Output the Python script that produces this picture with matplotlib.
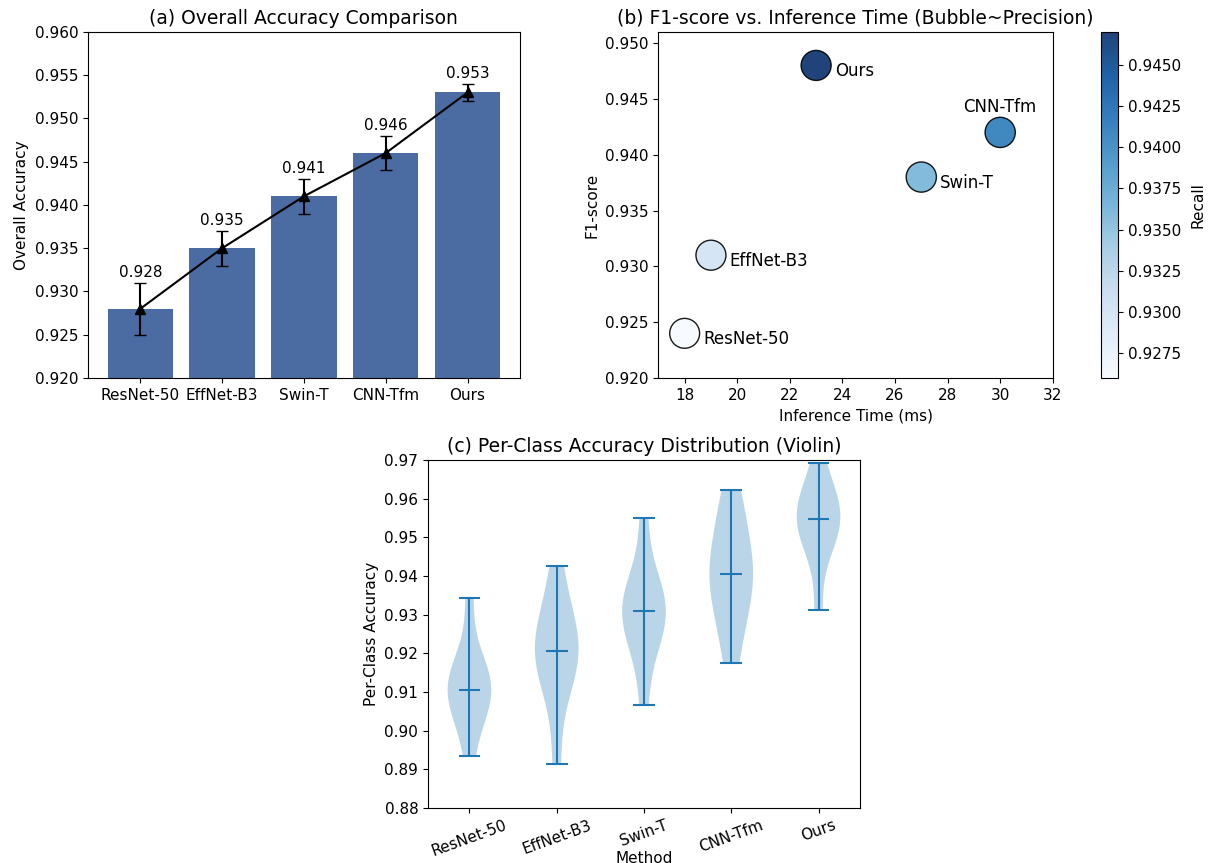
import matplotlib
matplotlib.use("Agg")
import matplotlib.pyplot as plt
import numpy as np

methods = ["ResNet-50", "EffNet-B3", "Swin-T", "CNN-Tfm", "Ours"]

# overall accuracy with std over runs
overall_acc = [0.928, 0.935, 0.941, 0.946, 0.953]
overall_std = [0.003, 0.002, 0.002, 0.002, 0.001]

# F1 / latency / precision / recall per method
f1_scores = [0.924, 0.931, 0.938, 0.942, 0.948]
infer_ms = [18, 19, 27, 30, 23]
precision = [0.926, 0.933, 0.944, 0.946, 0.934]
recall = [0.926, 0.930, 0.936, 0.941, 0.947]

# per-class accuracy (10 classes)
per_class = {
    "ResNet-50": [0.8934, 0.9021, 0.9058, 0.9080, 0.9097, 0.9115, 0.9132, 0.9168, 0.9195, 0.9342],
    "EffNet-B3": [0.8914, 0.9085, 0.9142, 0.9178, 0.9196, 0.9218, 0.9245, 0.9281, 0.9330, 0.9425],
    "Swin-T": [0.9066, 0.9205, 0.9240, 0.9275, 0.9300, 0.9318, 0.9340, 0.9362, 0.9400, 0.9551],
    "CNN-Tfm": [0.9175, 0.9262, 0.9318, 0.9365, 0.9392, 0.9418, 0.9455, 0.9502, 0.9560, 0.9622],
    "Ours": [0.9311, 0.9450, 0.9495, 0.9515, 0.9535, 0.9562, 0.9580, 0.9598, 0.9625, 0.9693],
}

fig = plt.figure(figsize=(12.08, 8.63), dpi=100)
ax1 = fig.add_axes([0.0728, 0.562, 0.3576, 0.401])
ax2 = fig.add_axes([0.545, 0.562, 0.3265, 0.401])
cax = fig.add_axes([0.9112, 0.562, 0.0143, 0.401])
ax3 = fig.add_axes([0.3543, 0.0637, 0.3576, 0.4032])

# (a) bars + error bars
x = np.arange(len(methods))
ax1.bar(x, overall_acc, width=0.8, color="#4A6CA3")
ax1.errorbar(x, overall_acc, yerr=overall_std, fmt="-^", color="black",
             capsize=4, markersize=7, linewidth=1.5)
for xi, v, e in zip(x, overall_acc, overall_std):
    ax1.text(xi, v + e + 0.0003, f"{v:.3f}", ha="center", va="bottom", fontsize=11)
ax1.set_xticks(x)
ax1.set_xticklabels(methods, fontsize=11)
ax1.set_ylim(0.92, 0.96)
ax1.set_yticks(np.arange(0.92, 0.9601, 0.005))
ax1.set_yticklabels([f"{t:.3f}" for t in np.arange(0.92, 0.9601, 0.005)], fontsize=11)
ax1.set_ylabel("Overall Accuracy", fontsize=11)
ax1.set_title("(a) Overall Accuracy Comparison", fontsize=13.5)

# (b) bubble chart, size ~ precision, colour ~ recall
sizes = [p * 500 for p in precision]
sc = ax2.scatter(infer_ms, f1_scores, s=sizes, c=recall, cmap="Blues",
                 vmin=0.926, vmax=0.947, alpha=0.9, edgecolors="black", linewidths=1)
for name, t, f in zip(methods, infer_ms, f1_scores):
    if name == "CNN-Tfm":
        ax2.annotate(name, (t, f), xytext=(0, 12), textcoords="offset points",
                     ha="center", va="bottom", fontsize=12)
    else:
        ax2.annotate(name, (t, f), xytext=(13.5, -4.3), textcoords="offset points",
                     ha="left", va="center", fontsize=12)
ax2.set_xlim(17, 32)
ax2.set_ylim(0.92, 0.951)
ax2.set_xticks(range(18, 33, 2))
ax2.set_yticks(np.arange(0.92, 0.9501, 0.005))
ax2.set_yticklabels([f"{t:.3f}" for t in np.arange(0.92, 0.9501, 0.005)])
ax2.tick_params(labelsize=11)
ax2.set_xlabel("Inference Time (ms)", fontsize=11)
ax2.set_ylabel("F1-score", fontsize=11)
ax2.set_title("(b) F1-score vs. Inference Time (Bubble~Precision)", fontsize=13.5)
cb = fig.colorbar(sc, cax=cax)
cb.set_ticks(np.arange(0.9275, 0.9451, 0.0025))
cb.ax.tick_params(labelsize=11)
cb.set_label("Recall", fontsize=11, labelpad=7)

# (c) violin plot
data = [per_class[m] for m in methods]
ax3.violinplot(data, showmedians=True)
ax3.set_xticks(range(1, len(methods) + 1))
ax3.set_xticklabels(methods, rotation=20, fontsize=11)
ax3.set_ylim(0.88, 0.97)
ax3.set_yticks(np.arange(0.88, 0.9701, 0.01))
ax3.set_yticklabels([f"{t:.2f}" for t in np.arange(0.88, 0.9701, 0.01)], fontsize=11)
ax3.set_xlabel("Method", fontsize=11, labelpad=-6)
ax3.set_ylabel("Per-Class Accuracy", fontsize=11)
ax3.set_title("(c) Per-Class Accuracy Distribution (Violin)", fontsize=13.5)

fig.savefig("out.png", dpi=100)
